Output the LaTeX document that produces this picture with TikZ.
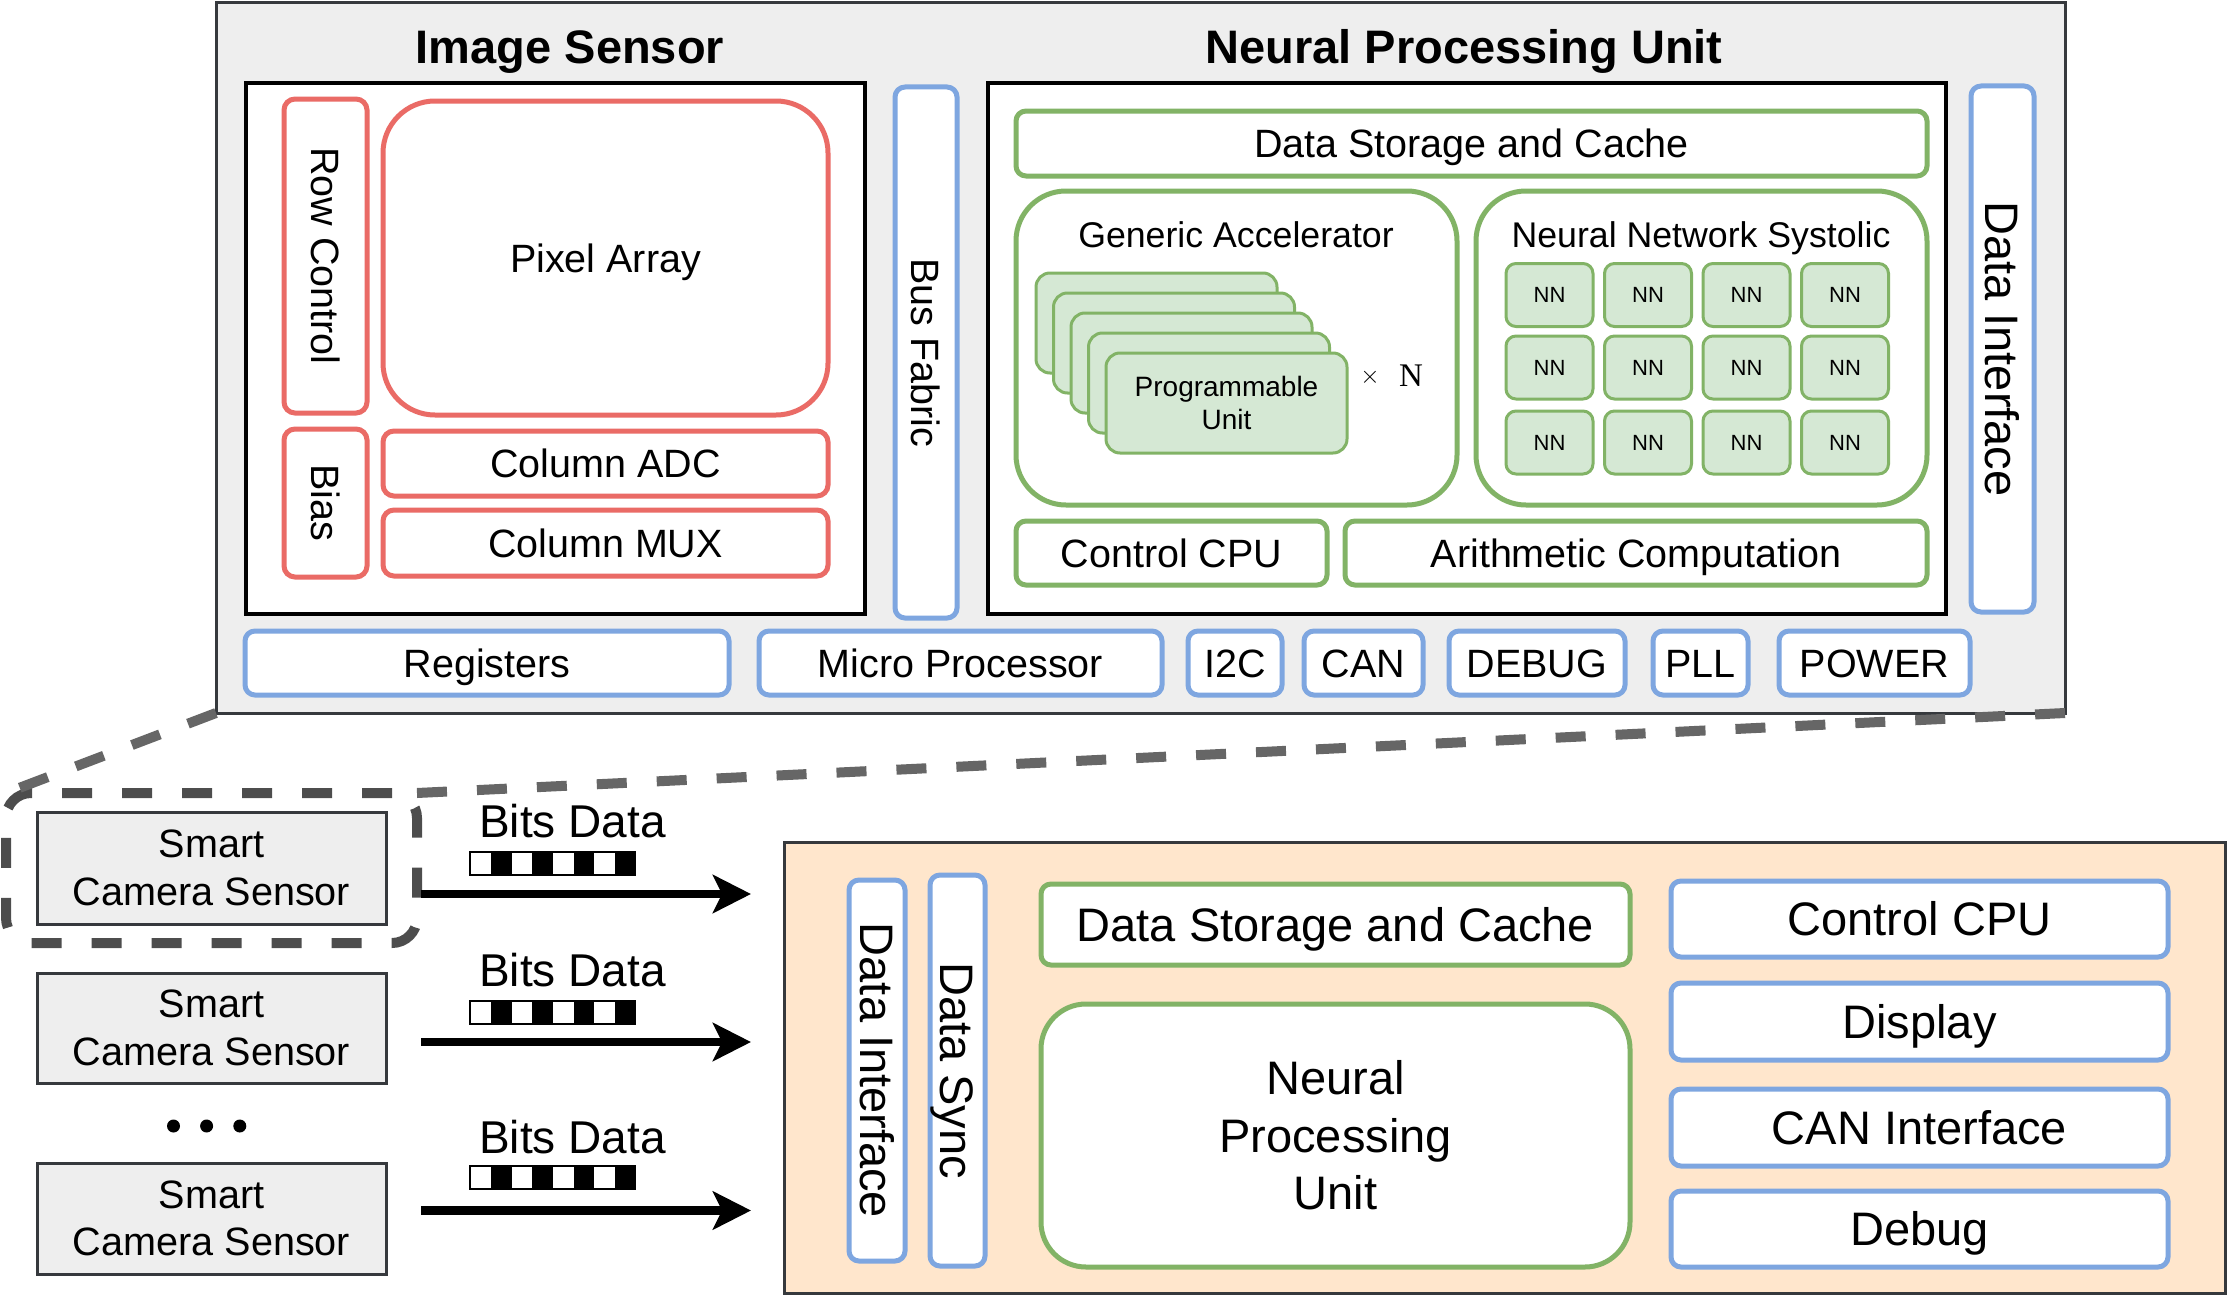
\documentclass[tikz,border=0pt]{standalone}
\usepackage{fontspec}
\setmainfont{Liberation Sans}
\newfontfamily\seriffont{Liberation Serif}
\usetikzlibrary{arrows.meta}
\definecolor{cred}{HTML}{EA6B66}
\definecolor{cblue}{HTML}{7EA6E0}
\definecolor{cgreen}{HTML}{82B366}
\definecolor{clgreen}{HTML}{D5E8D4}
\definecolor{cgray}{HTML}{EEEEEE}
\definecolor{cpeach}{HTML}{FFE6CC}
\definecolor{cdark}{HTML}{36393D}
\definecolor{cdash}{HTML}{4D4D4D}
\definecolor{cdiag}{HTML}{666666}
\newcommand\fB{\fontsize{39.5}{46}\selectfont}
\newcommand\fT{\fontsize{47}{54}\selectfont\bfseries}
\newcommand\fD{\fontsize{35.7}{42}\selectfont}
\newcommand\fE{\fontsize{28}{33}\selectfont}
\newcommand\fN{\fontsize{22}{26}\selectfont}
\newcommand\fM{\fontsize{47}{57.5}\selectfont}
\newcommand\fC{\fontsize{46}{52}\selectfont}
\newcommand\fS{\fontsize{39.6}{47.5}\selectfont}
\newcommand\mybox[7]{\node[#1, minimum width={(#5)-(#3)}, minimum height={(#6)-(#4)}] (#2) at ({((#3)+(#5))/2},{((#4)+(#6))/2}) {#7};}
\newcommand\myvbox[7]{\node[#1, rotate=-90, minimum width={(#6)-(#4)}, minimum height={(#5)-(#3)}] (#2) at ({((#3)+(#5))/2},{((#4)+(#6))/2}) {#7};}
\newcommand\bitsbar[2]{%
  \draw[line width=2pt, fill=white] (#1,#2) rectangle ({#1+165},{#2+23});
  \foreach \k in {1,3,5,7} \fill[black] ({#1+\k*20.625},#2) rectangle ({#1+(\k+1)*20.625},{#2+23});
}
\tikzset{
  base/.style={inner sep=0pt, outer sep=0pt, align=center, text=black, font=\fB},
  capB/.style={text height=28.3pt, text depth=0pt},
  capM/.style={font=\fM, text height=33.7pt, text depth=0pt},
  multi/.style={text height=, text depth=},
  outerbox/.style={base, draw=cdark, line width=3pt, fill=cgray},
  whitebox/.style={base, draw=black, line width=3.5pt, fill=white},
  redbox/.style={base, capB, draw=cred, line width=5pt, fill=white, rounded corners=11pt},
  bluebox/.style={base, capB, draw=cblue, line width=5pt, fill=white, rounded corners=10pt},
  greenbox/.style={base, capB, draw=cgreen, line width=5pt, fill=white, rounded corners=10pt},
  cardbox/.style={base, draw=cgreen, line width=3pt, fill=clgreen, rounded corners=14pt, font=\fE},
  nnbox/.style={base, draw=cgreen, line width=3pt, fill=clgreen, rounded corners=10pt, font=\fN, text height=15.8pt, text depth=0pt, minimum width=87pt, minimum height=63pt},
  peachbox/.style={base, draw=cdark, line width=3pt, fill=cpeach},
  camerabox/.style={base, draw=cdark, line width=3pt, fill=cgray, font=\fS},
  grpbox/.style={base, draw=cdash, line width=10pt, dash pattern=on 30pt off 30pt, rounded corners=25pt},
  diagline/.style={draw=cdiag, line width=10pt, dash pattern=on 30pt off 30pt},
  dataarrow/.style={line width=8.4pt, -{Stealth[length=38pt, width=38pt, inset=9pt]}},
}
\begin{document}
\begin{tikzpicture}[x=1pt, y=-1pt]
\useasboundingbox (0,0) rectangle (2228,1298);
% ---------- upper chip ----------
\mybox{outerbox}{outer}{216}{3}{2065}{713}{}
\node[base, font=\fT, anchor=base] (istitle) at (570,64) {Image Sensor};
\node[base, font=\fT, anchor=base] (nputitle) at (1464,64) {Neural Processing Unit};
\mybox{whitebox}{isbox}{246}{83}{865}{614}{}
\myvbox{redbox}{rowctl}{284}{99}{367}{413}{Row Control}
\mybox{redbox, rounded corners=52pt}{pixel}{383}{101}{828}{415}{Pixel Array}
\myvbox{redbox}{bias}{284}{429}{367}{577}{Bias}
\mybox{redbox}{adc}{383}{431}{828}{496}{Column ADC}
\mybox{redbox}{mux}{383}{510}{828}{576}{Column MUX}
\myvbox{bluebox}{bus}{895}{87}{957}{618}{Bus Fabric}
\mybox{whitebox}{npubox}{988}{83}{1946}{614}{}
\mybox{greenbox}{dsc}{1016}{111}{1927}{176}{Data Storage and Cache}
\mybox{greenbox, rounded corners=50pt}{gacc}{1016}{191}{1457}{505}{}
\mybox{greenbox, rounded corners=50pt}{nnsys}{1476}{191}{1927}{505}{}
\node[base, font=\fD, anchor=base] (gacctitle) at (1236,247) {Generic Accelerator};
\node[base, font=\fD, anchor=base] (nnsystitle) at (1701,247) {Neural Network Systolic};
\foreach \i/\x/\y in {1/1036/273, 2/1053.5/293, 3/1071/313, 4/1088.5/333}
  {\mybox{cardbox}{card\i}{\x}{\y}{\x+241}{\y+100}{}}
\mybox{cardbox}{card5}{1106}{353}{1347}{453}{Programmable\\Unit}
\node[base, font=\fontsize{26}{28}\selectfont] (timesn) at (1370,377) {$\times$};
\node[base, font=\seriffont\fontsize{33}{36}\selectfont] (nsym) at (1411,376) {N};
\foreach \c/\cx in {1/1549.5,2/1648,3/1746.5,4/1845}
  \foreach \r/\ry in {1/295,2/367.5,3/442.5}
    {\node[nnbox] (nn\r\c) at (\cx,\ry) {NN};}
\mybox{greenbox}{ccpu}{1016}{521}{1327}{585}{Control CPU}
\mybox{greenbox}{arith}{1345}{521}{1927}{585}{Arithmetic Computation}
\myvbox{bluebox, capM}{dif}{1971}{86}{2034}{612}{Data Interface}
\mybox{bluebox}{reg}{245}{631}{729}{695}{Registers}
\mybox{bluebox}{mproc}{759}{631}{1162}{695}{Micro Processor}
\mybox{bluebox}{iic}{1188}{631}{1282}{695}{I2C}
\mybox{bluebox}{can}{1304}{631}{1423}{695}{CAN}
\mybox{bluebox}{dbg}{1449}{631}{1625}{695}{DEBUG}
\mybox{bluebox}{pll}{1653}{631}{1748}{695}{PLL}
\mybox{bluebox}{pwr}{1779}{631}{1970}{695}{POWER}
% ---------- cameras ----------
\mybox{camerabox}{cam1}{37}{812}{386}{924}{Smart\\Camera Sensor}
\mybox{camerabox}{cam2}{37}{973}{386}{1083}{Smart\\Camera Sensor}
\mybox{camerabox}{cam3}{37}{1163}{386}{1274}{Smart\\Camera Sensor}
\foreach \dx in {173.5,206.6,239.8} \fill[black] (\dx,1126) circle (6.5pt);
\mybox{grpbox}{grp}{6}{793}{417}{943}{}
\draw[diagline] (outer.south west) -- (grp.north west);
\draw[diagline] (grp.north east) -- (outer.south east);
% ---------- bits data ----------
\node[base, font=\fC, anchor=base] (bd1) at (572.6,837) {Bits Data};
\node[base, font=\fC, anchor=base] (bd2) at (572.6,986.6) {Bits Data};
\node[base, font=\fC, anchor=base] (bd3) at (572.6,1153) {Bits Data};
\bitsbar{470.4}{851.5}
\bitsbar{470.4}{1000.5}
\bitsbar{470.4}{1166}
\coordinate (a1s) at (421,894);    \coordinate (a1e) at (751,894);
\coordinate (a2s) at (421,1042);   \coordinate (a2e) at (751,1042);
\coordinate (a3s) at (421,1210.5); \coordinate (a3e) at (751,1210.5);
\draw[dataarrow] (a1s) -- (a1e);
\draw[dataarrow] (a2s) -- (a2e);
\draw[dataarrow] (a3s) -- (a3e);
% ---------- host ----------
\mybox{peachbox}{host}{784}{842}{2225}{1293}{}
\myvbox{bluebox, capM}{dif2}{849}{880}{905}{1261}{Data Interface}
\myvbox{bluebox, capM}{dsync}{930}{875}{985}{1266}{Data Sync}
\mybox{greenbox, capM}{dsc2}{1041}{884}{1630}{965}{Data Storage and Cache}
\mybox{greenbox, multi, rounded corners=45pt, font=\fM}{npu2}{1041}{1004}{1630}{1267}{Neural\\Processing\\Unit}
\mybox{bluebox, capM}{ccpu2}{1671}{881}{2168}{957}{Control CPU}
\mybox{bluebox, capM}{disp}{1671}{983}{2168}{1060}{Display}
\mybox{bluebox, capM}{canif}{1671}{1089}{2168}{1166}{CAN Interface}
\mybox{bluebox, capM}{dbg2}{1671}{1191}{2168}{1267}{Debug}
\end{tikzpicture}
\end{document}
